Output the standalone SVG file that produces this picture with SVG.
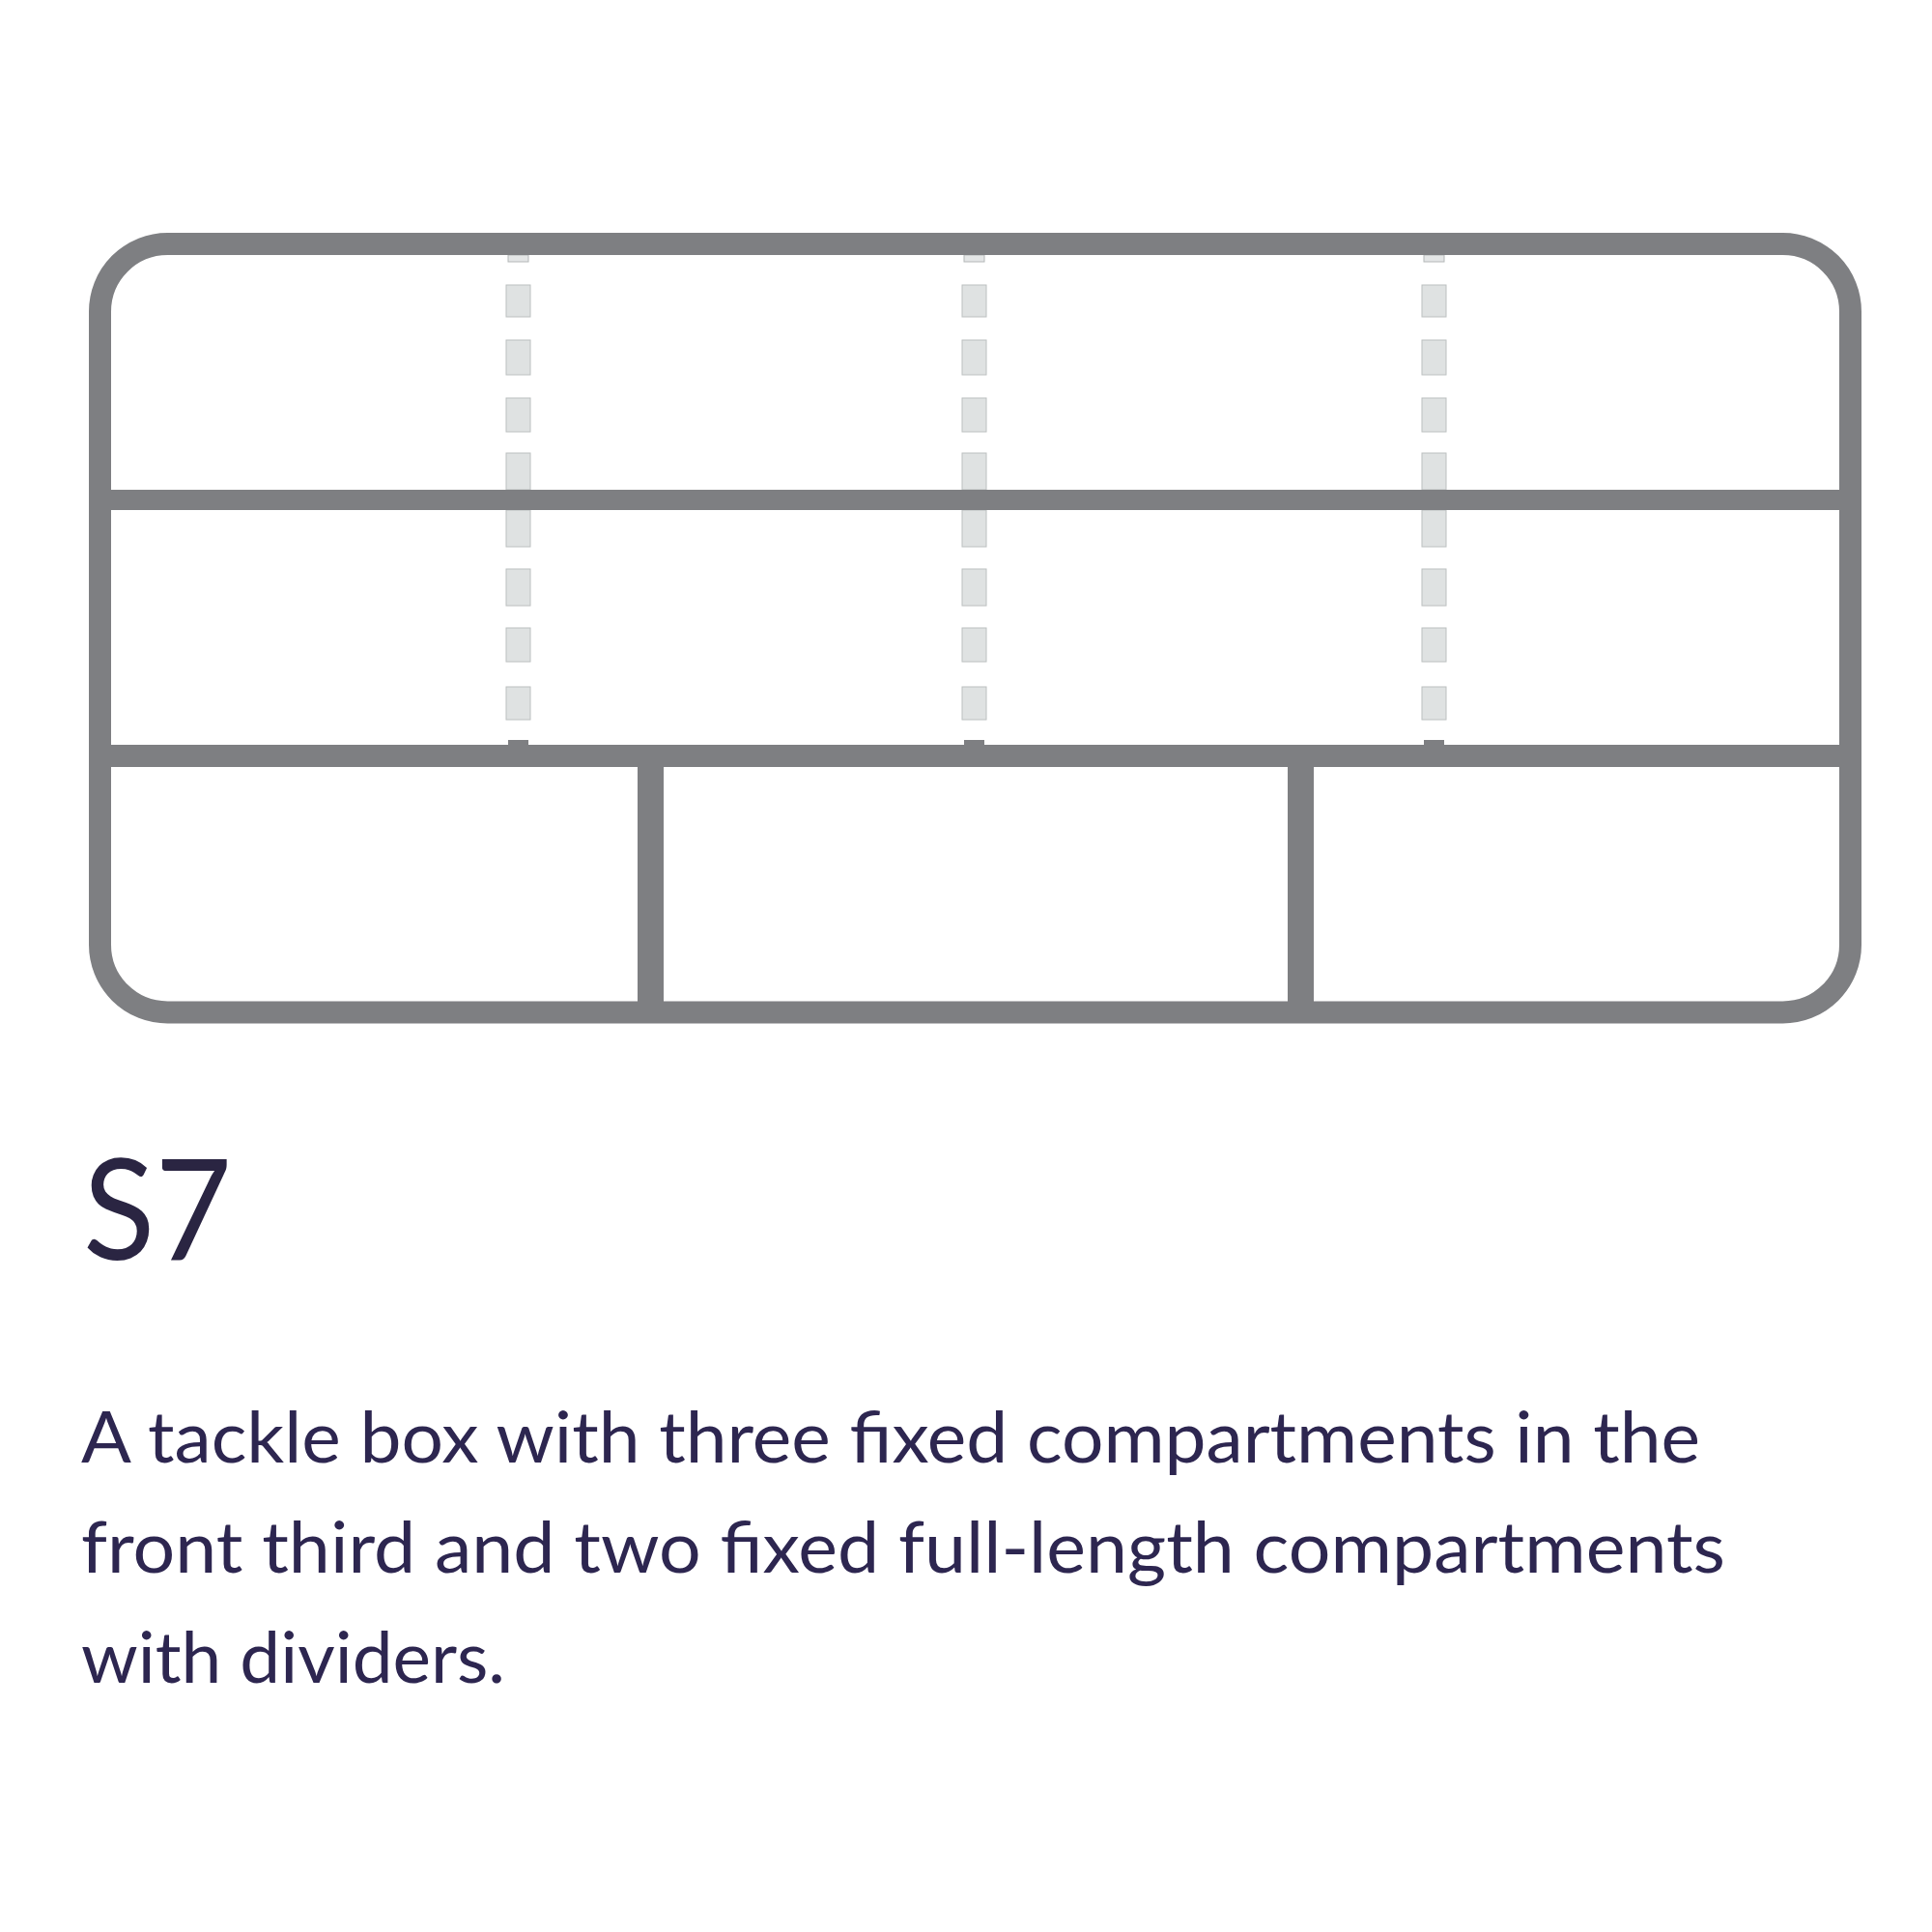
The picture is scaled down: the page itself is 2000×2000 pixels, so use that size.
<svg xmlns="http://www.w3.org/2000/svg" width="2000" height="2000" viewBox="0 0 2000 2000">
<style>
.frame{fill:none;stroke:#7e7f82;stroke-width:23}
.bar{fill:#7e7f82}
.dash{fill:#dfe2e2;stroke:#bcc0c0;stroke-width:1}
.cap{fill:#e4e6e6;stroke:#b4b7b8;stroke-width:1}
.tab{fill:#7e7f82}
.title{font-family:Lato,"Open Sans","Liberation Sans",sans-serif;font-weight:400;font-size:146px;fill:#2a2542}
.desc{font-family:Lato,"Open Sans","Liberation Sans",sans-serif;font-weight:400;font-size:74px;fill:#2d2650}
</style>
<defs>
<g id="dashcol">
<rect class="cap" x="2" y="264" width="21" height="7"/>
<rect class="dash" x="0" y="295" width="25" height="33"/>
<rect class="dash" x="0" y="352" width="25" height="36"/>
<rect class="dash" x="0" y="412" width="25" height="35"/>
<rect class="dash" x="0" y="469" width="25" height="38"/>
<rect class="dash" x="0" y="528" width="25" height="38"/>
<rect class="dash" x="0" y="589" width="25" height="38"/>
<rect class="dash" x="0" y="650" width="25" height="35"/>
<rect class="dash" x="0" y="711" width="25" height="34"/>
<rect class="tab" x="2" y="766" width="21" height="6"/>
</g>
</defs>
<g id="box">
<g id="dividers-removable">
<use href="#dashcol" x="524"/>
<use href="#dashcol" x="996"/>
<use href="#dashcol" x="1472"/>
</g>
<rect class="frame" x="103.5" y="252.5" width="1812" height="795.5" rx="70" ry="70"/>
<rect class="bar" x="110" y="507" width="1800" height="21"/>
<rect class="bar" x="110" y="771" width="1800" height="23"/>
<rect class="bar" x="660" y="790" width="27" height="250"/>
<rect class="bar" x="1333" y="790" width="27" height="250"/>
</g>
<g id="label">
<text class="title" x="86" y="1304" textLength="154" lengthAdjust="spacingAndGlyphs">S7</text>
</g>
<g id="description">
<text class="desc" x="84" y="1514" textLength="1676" lengthAdjust="spacingAndGlyphs">A tackle box with three fixed compartments in the</text>
<text class="desc" x="84" y="1628" textLength="1702" lengthAdjust="spacingAndGlyphs">front third and two fixed full-length compartments</text>
<text class="desc" x="84" y="1742" textLength="439" lengthAdjust="spacingAndGlyphs">with dividers.</text>
</g>
</svg>
